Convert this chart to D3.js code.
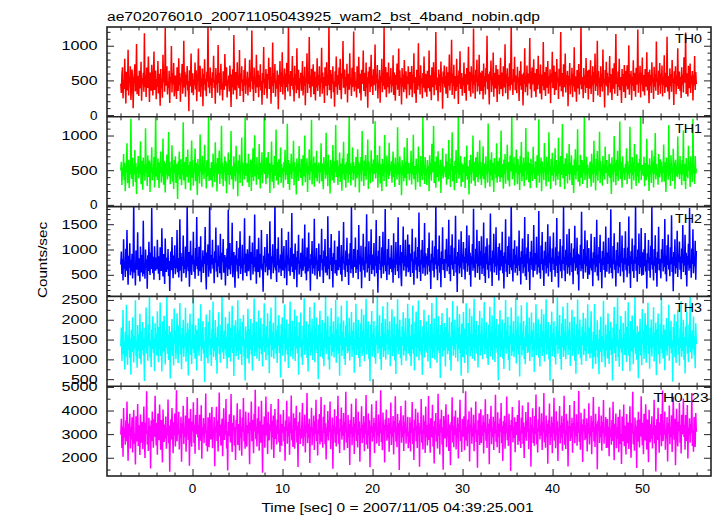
<!DOCTYPE html>
<html><head><meta charset="utf-8">
<script src="https://cdn.jsdelivr.net/npm/d3@7"></script>
<style>html,body{margin:0;padding:0;background:#fff;} svg{display:block;}</style>
</head><body>
<svg id="c" width="717" height="516"></svg>
<script>
const titleText = "ae702076010_20071105043925_wam2_bst_4band_nobin.qdp";
const xLabelText = "Time [sec] 0 = 2007/11/05 04:39:25.001";
const yLabelText = "Counts/sec";
const bandNames = ["TH0","TH1","TH2","TH3","TH0123"];
const bandColors = ["#ff0000","#00ff00","#0000ff","#00ffff","#ff00ff"];
const timeStart = -8, timeEnd = 56;
const xDomain = [-9.5, 57.6];
const xMajorTicks = [0,10,20,30,40,50];
const xMinorStep = 2;
const yDomains = [[-25,1270],[-25,1270],[73,1848],[323,2589],[1227,5030]];
const yMajorTicks = [[0,500,1000],[0,500,1000],[500,1000,1500],[500,1000,1500,2000,2500],[2000,3000,4000,5000]];
const yMinorStep = [100,100,100,250,500];

const th0 = [
452,318,587,690,241,505,378,812,430,166,623,497,355,941,284,540,463,702,219,388,655,512,97,476,588,731,342,459,1024,301,566,420,
274,638,491,383,769,208,533,447,608,335,1180,402,571,259,684,470,392,845,526,187,613,441,350,725,498,281,560,917,363,487,642,229,
519,406,778,312,595,451,136,663,387,528,250,870,474,612,338,1260,425,557,703,296,482,390,639,174,548,460,995,327,603,441,752,270,
384,571,460,233,689,512,347,820,429,604,192,538,476,735,309,451,1072,398,626,265,583,437,706,354,492,55,647,411,561,889,322,470,
603,285,514,432,758,369,646,201,497,584,961,338,455,712,263,530,409,671,128,592,443,803,356,518,270,624,481,1345,397,556,314,687,
428,533,246,619,472,856,391,508,165,678,437,579,322,1010,463,610,284,527,740,371,456,212,633,498,364,882,541,417,690,253,502,446,
571,340,715,459,118,586,403,660,297,1155,488,357,621,524,229,762,431,546,386,938,275,598,466,703,347,514,189,650,423,819,306,492,
455,626,281,538,401,797,334,612,487,1220,372,559,204,684,445,523,317,871,470,398,642,256,573,409,731,353,496,148,608,461,983,290,
517,384,663,447,240,591,512,828,375,470,689,162,552,421,1046,318,604,458,736,265,499,382,641,527,84,576,440,779,333,618,407,905,
298,546,472,670,221,597,403,753,486,339,1290,452,581,270,637,419,503,853,367,542,195,711,430,588,316,964,478,361,655,244,529,468,
610,351,491,778,283,564,425,697,143,535,462,892,320,603,448,1125,387,570,259,666,414,518,731,302,485,627,212,549,399,818,346,577,
432,703,265,528,466,970,309,612,385,550,173,689,421,498,760,281,574,436,1330,357,509,648,236,591,454,705,328,487,119,633,410,846,
503,292,575,438,684,361,812,457,227,602,529,1068,394,461,657,301,548,420,740,182,596,473,367,891,440,526,275,681,403,587,1205,339,
620,414,488,254,703,536,379,840,469,316,597,211,653,448,522,930,347,610,483,267,759,395,544,104,628,457,696,334,508,871,412,571,
289,662,431,539,1017,352,584,460,723,240,513,386,648,178,564,475,811,331,601,425,1280,368,540,693,258,486,617,402,759,313,552,444,
679,327,506,421,862,290,613,472,205,581,438,742,366,529,960,274,645,457,538,151,677,410,586,330,795,483,370,631,240,560,447,702,
534,287,619,442,371,706,258,581,463,890,312,547,409,176,652,488,365,1034,423,569,297,718,451,530,243,607,396,845,478,331,594,412,
266,640,503,389,932,341,575,447,214,688,520,402,761,285,613,436,1198,359,542,470,198,655,418,587,327,772,461,549,93,628,445,713,
398,562,306,695,481,248,617,424,873,356,531,463,1087,290,600,418,725,236,563,494,347,811,409,572,161,644,452,920,375,519,606,279,
541,428,757,318,590,466,206,679,437,515,984,351,623,400,265,704,489,561,312,1250,438,577,236,652,469,798,341,530,418,869,297,615,
462,349,638,517,228,742,405,563,296,680,481,1142,372,596,443,154,628,507,785,334,551,426,903,263,609,470,384,720,512,187,659,431,
578,302,490,826,377,615,451,271,703,529,398,1022,316,587,462,676,225,548,417,746,353,623,1305,439,512,290,665,476,839,358,571,452,
315,697,468,541,203,638,423,775,364,589,492,139,611,447,962,328,565,405,713,282,598,458,532,1110,374,629,251,687,441,518,806,343,
607,420,259,664,503,371,856,436,592,312,729,460,225,583,418,1052,357,621,479,274,694,531,395,778,307,560,443,660,172,601,470,914,
386,548,715,291,623,454,360,810,475,537,233,669,411,583,1198,342,606,468,265,731,494,402,889,327,575,446,637,128,568,423,750,301,
521,437,682,258,594,412,978,336,557,470,194,648,509,385,735,296,612,440,1340,371,547,489,243,677,432,575,318,824,463,392,640,225,
653,379,495,791,304,566,428,703,187,622,451,887,347,580,416,1073,283,634,472,538,262,705,413,596,339,947,460,521,108,651,437,768,
414,609,282,547,466,852,325,593,439,219,676,498,381,746,309,571,1168,448,532,275,628,405,812,358,549,480,174,663,424,593,333,721,
560,247,634,421,718,369,505,1005,292,588,457,638,213,552,419,791,346,609,483,263,682,437,540,1235,321,597,466,712,255,614,440,831,
342,576,490,284,663,517,408,904,355,621,449,171,655,423,579,318,760,472,537,231,697,410,588,352,1060,479,533,290,640,428,749,308,
596,453,716,268,545,430,862,319,610,474,402,1130,340,563,488,226,673,415,590,337,794,462,527,146,632,450,703,299,572,419,965,376,
489,627,351,551,248,688,439,583,327,835,468,512,1190,305,604,441,269,712,495,388,742,319,566,453,634,210,580,427,853,362,621,447];

const th1 = [
498,621,287,540,413,732,359,608,196,563,470,889,312,527,651,244,596,438,1240,375,512,684,265,579,447,790,330,602,158,541,468,705,
384,573,451,916,298,634,507,219,682,426,571,348,1103,463,590,272,717,401,548,639,186,603,472,829,355,519,436,694,249,585,1322,411,
529,360,667,482,245,610,455,771,322,548,410,956,289,634,503,178,598,442,727,367,561,1050,414,622,296,539,480,858,334,577,230,646,
458,701,315,593,487,84,624,432,768,371,536,658,283,505,443,1192,352,617,470,226,689,534,405,797,318,571,448,626,207,589,929,390,
642,277,533,461,812,341,606,490,142,662,419,573,309,1013,486,554,261,708,437,612,373,865,471,532,237,644,410,583,1290,344,527,462,
355,616,497,253,741,418,585,330,903,459,600,193,674,442,519,785,302,581,453,1140,378,611,268,552,476,697,345,628,166,590,433,754,
514,292,648,430,1064,367,557,484,224,701,412,596,339,853,474,550,126,638,451,723,316,579,489,972,271,611,447,568,365,1260,420,539,
601,323,470,738,257,585,466,653,201,627,398,818,340,529,1005,412,574,291,690,443,532,369,877,484,236,606,429,757,311,563,476,1345,
447,568,298,682,506,383,761,439,604,170,591,468,914,332,577,495,240,705,422,544,1087,351,618,460,289,659,517,402,827,314,590,453,
535,246,619,478,794,362,563,431,1170,301,646,507,213,598,440,736,374,583,486,923,282,617,459,551,148,670,412,588,343,849,476,523,
389,660,451,275,716,530,410,999,325,592,468,672,186,556,437,803,357,624,483,1228,294,571,445,698,263,604,511,390,781,339,567,474,
612,308,541,467,889,341,598,425,227,690,502,571,376,1041,430,613,269,724,458,539,164,651,426,580,352,862,491,317,632,470,1150,402,
477,642,286,563,412,754,330,597,488,205,672,441,910,363,586,509,248,617,455,739,321,574,1290,436,600,279,548,468,826,354,615,443,
560,256,689,471,383,803,429,618,177,589,455,691,339,1065,492,553,271,640,418,720,364,598,487,942,230,626,451,540,312,787,465,592,
332,655,447,529,1205,381,570,466,718,248,603,432,851,307,584,496,198,662,418,593,345,1008,473,539,262,711,445,580,374,896,420,567,
490,628,318,546,770,402,590,257,683,452,532,365,1118,437,611,288,701,468,551,138,645,425,579,341,832,499,387,620,275,964,451,508,
603,354,528,461,779,295,617,433,1012,370,559,491,218,668,445,582,326,843,472,539,261,704,416,611,358,1266,449,572,301,689,432,518,
287,645,480,556,196,716,439,604,348,881,467,530,1139,315,621,458,246,696,508,402,772,336,578,451,649,173,597,424,817,380,561,473,
541,403,738,292,625,459,368,934,421,587,258,673,496,1047,339,562,481,211,634,447,791,316,605,468,1298,377,548,431,706,263,612,484,
329,581,470,694,245,603,417,857,362,556,493,151,648,430,722,307,579,468,1001,348,621,455,273,687,512,401,764,326,590,443,930,372,
618,288,553,412,846,371,597,466,239,701,438,569,319,1174,480,535,262,653,424,758,357,608,492,187,676,449,541,386,890,318,627,459,
412,679,330,527,1071,394,588,470,231,655,446,733,304,582,511,866,352,616,437,264,713,482,556,1325,368,601,428,692,279,573,465,798,
553,296,661,438,576,213,702,463,905,341,594,417,683,270,612,488,1108,359,547,441,771,327,603,476,239,664,431,582,345,837,459,528,
374,630,495,248,717,421,569,1233,318,598,462,682,195,627,453,543,356,892,470,528,267,695,439,616,333,1046,487,552,229,663,426,751,
590,342,532,467,816,281,648,414,575,362,968,451,617,258,706,433,560,1167,384,593,472,226,671,505,417,744,310,584,446,878,355,609,
437,714,286,569,452,170,655,428,803,368,591,484,1092,335,574,449,269,723,510,396,645,302,616,463,1279,359,538,427,697,245,582,471,
529,377,623,498,262,738,441,584,320,925,467,546,209,661,423,775,349,598,486,1056,313,629,450,540,276,704,418,571,366,842,462,503,
646,303,557,420,734,391,596,472,158,687,436,562,327,993,478,608,283,652,419,781,343,575,496,1201,372,621,445,246,699,457,534,404,
361,591,470,815,297,633,441,548,375,1127,459,582,225,690,427,618,351,876,482,534,273,728,409,603,462,312,665,497,1290,354,577,436,
573,418,692,267,604,458,355,953,407,581,490,201,671,432,559,316,787,464,622,252,701,447,1036,369,589,425,540,289,732,476,394,658,
448,622,325,557,461,870,338,614,421,187,682,495,543,364,1150,426,596,274,716,459,532,343,808,478,611,230,651,418,570,399,984,441,
531,369,706,444,581,282,648,433,1074,346,593,472,228,677,413,560,381,851,490,618,257,699,427,585,331,1243,461,546,302,704,449,520];

const th2 = [
702,958,514,811,390,1204,623,748,455,1015,581,1387,689,302,874,640,1122,492,793,566,917,428,735,1960,548,671,287,982,760,603,1343,481,
826,634,368,1058,702,547,893,466,1570,519,716,423,1001,628,807,225,884,574,1152,661,497,940,615,1822,738,532,858,403,1066,694,579,842,
612,1193,744,519,868,395,1046,697,576,1418,783,468,913,651,318,1217,729,558,837,606,1010,476,771,182,696,962,588,1248,712,431,880,637,
1085,509,774,628,1384,549,833,447,702,1596,578,929,370,851,681,1277,529,768,614,1060,442,707,1873,805,571,951,266,728,1173,636,498,884,
705,1352,560,797,421,1028,676,1640,608,846,479,1053,717,571,1263,351,791,659,984,536,869,713,1447,578,210,940,687,1101,462,773,1922,634,
526,893,705,1191,618,829,334,966,741,1437,566,777,450,1085,666,872,529,1311,613,402,936,756,1208,543,702,891,291,845,651,1020,476,1788,
758,604,1127,512,803,688,1528,452,735,949,587,242,887,698,1167,564,811,429,1035,673,1362,517,746,630,1093,388,831,706,1619,541,922,652,
474,1003,728,569,858,1272,627,391,949,714,1140,505,796,648,1690,563,853,321,1003,685,556,1232,764,448,912,627,1385,590,720,167,874,732,
1047,552,798,660,1304,485,746,921,601,1560,707,411,864,731,1102,531,823,644,1985,592,710,358,1014,687,1243,548,801,627,903,477,1421,675,
586,817,1069,432,759,641,1187,294,888,703,1350,571,820,482,1033,662,1722,553,765,918,415,686,1118,598,847,254,968,720,1290,506,772,624,
934,458,703,1216,582,795,666,1494,526,853,390,1040,711,568,1338,640,807,186,911,694,1167,521,759,633,1608,486,846,704,1028,413,789,578,
1120,641,460,892,735,1410,592,812,337,978,669,1205,543,755,868,489,1655,618,771,412,1034,701,1306,574,851,247,932,710,1178,528,793,645,
480,1058,719,592,1372,650,824,505,1089,372,877,726,1545,601,742,458,981,683,1234,557,805,301,920,696,1126,532,1852,618,775,440,1012,706,
655,1236,534,791,617,994,412,1486,704,862,561,1073,236,839,687,1310,590,765,445,1054,722,1698,548,812,636,1161,379,896,701,1402,514,768,
903,602,1130,469,785,681,1581,532,864,146,977,717,1265,595,749,434,1046,663,1352,520,818,690,1799,571,733,395,1011,688,1206,503,842,617,
735,1084,553,811,342,1322,642,779,498,1146,703,917,571,1638,434,858,697,1087,512,276,950,727,1455,583,804,671,1192,466,875,645,1298,552,
612,1097,684,455,923,771,1412,538,806,302,958,703,1236,591,847,426,1050,668,1731,557,790,377,994,702,1189,523,860,644,1523,480,925,716,
864,505,1031,678,1338,561,794,221,917,735,1178,582,843,449,1065,703,1892,612,768,394,1003,677,1276,540,831,256,962,716,1441,593,812,661,
437,998,726,1214,570,839,659,1587,515,887,373,1079,696,1303,604,776,478,1035,712,1665,548,861,160,949,684,1196,526,808,640,1362,458,901,
742,1149,603,858,407,1024,731,1476,559,819,687,1283,498,934,263,867,705,1107,582,1806,640,794,446,1016,717,1392,535,849,672,1168,401,972,
685,1263,514,805,630,1535,476,927,338,1058,709,1224,601,756,432,1092,689,1710,566,838,279,981,722,1311,548,877,663,1439,496,812,689,1047,
388,1125,752,584,983,668,1350,529,869,231,946,718,1597,560,801,459,1071,694,1255,517,855,646,1926,591,778,367,1014,705,1183,542,894,633,
1062,488,821,692,1373,575,845,307,965,713,1219,532,789,648,1644,470,906,398,1037,723,1304,561,829,199,955,698,1171,602,838,453,1486,681,
579,930,704,1250,508,866,652,1760,543,796,420,1081,716,1346,592,810,281,976,688,1152,527,883,637,1501,469,921,730,1264,560,843,358,1018,
720,1336,596,817,461,1043,681,1622,534,873,251,960,702,1207,568,786,433,1076,715,1852,586,849,371,993,690,1299,520,807,649,1410,487,935,
691,1123,556,840,315,1020,727,1468,579,858,642,1233,505,917,188,891,698,1094,571,1747,618,802,423,1008,710,1377,544,864,677,1182,416,958,
1025,503,774,635,1313,587,829,275,944,706,1248,549,812,662,1589,481,897,387,1049,731,1289,556,824,232,970,695,1160,594,851,445,1453,679,
560,942,713,1230,519,873,640,1795,536,801,428,1068,708,1321,598,783,267,990,683,1141,530,876,653,1545,473,913,735,1275,565,834,349,1030,
706,1360,589,827,452,1037,677,1652,528,866,240,967,711,1218,572,790,438,1083,718,1903,582,853,364,999,688,1316,515,811,646,1425,483,944,
833,498,1005,671,1327,566,791,229,925,730,1190,578,848,444,1072,697,1847,607,773,390,1011,673,1283,537,836,262,955,713,1450,588,818,658,
430,1004,729,1207,566,844,656,1603,510,882,369,1086,694,1295,607,781,474,1042,709,1678,553,858,173,952,680,1203,521,813,637,1368,455,908,
748,1156,600,862,410,1019,728,1484,556,822,684,1290,495,938,270,870,702,1114,579,1818,635,799,441,1021,714,1400,532,846,668,1175,404,969];

const th3 = [
1328,1802,960,1541,2243,1127,1460,745,1688,1072,2378,1304,865,1610,1243,1975,1036,1512,614,1739,1188,2065,1394,921,1583,1270,2492,1085,1450,790,1867,1219,
1630,1015,2154,1377,876,1704,1232,1940,1107,1525,455,1798,1284,2310,1146,1592,968,1882,1331,2570,1050,1474,803,1761,1260,2085,1169,1528,700,1913,1298,1642,
1101,2211,1405,930,1817,1252,2433,1083,1555,692,1960,1347,1201,2102,1474,872,1737,1296,2594,1142,1618,986,1840,1324,517,1697,1214,2016,1090,1535,843,2286,
1383,1720,1005,1572,2165,1244,909,1857,1356,2420,1126,1609,754,1789,1279,1998,1068,1501,1321,2302,938,1669,1193,1924,591,1754,1350,2151,1115,1482,882,1880,
1269,2553,1157,1613,1013,1869,1402,718,1743,1225,2037,1092,1540,1336,2388,960,1707,1267,1965,1150,1466,428,1812,1309,2133,1044,1585,901,1946,1364,2246,1119,
1526,834,1779,1288,2458,1061,1650,1203,1994,981,1555,637,1825,1340,2190,1135,1481,918,1871,1296,2581,1173,1624,1009,1720,1252,2072,1107,1573,768,1906,1382,
1045,2206,1419,948,1796,1284,2352,1160,1530,579,1853,1327,1987,1079,1637,1198,2490,993,1726,1233,2031,1137,1589,856,1941,1346,2127,1066,1510,469,1834,1291,
1711,1023,2280,1387,897,1762,1245,2016,1124,1599,710,1915,1359,2537,1082,1658,1197,1949,1017,1495,1305,2231,958,1807,1261,2044,1130,1569,823,1891,1336,2419,
1178,1642,976,1838,1315,2165,1102,1541,652,1977,1369,2306,1057,1692,1234,1923,1018,1515,1290,2598,1140,1748,907,1862,1342,2111,1161,1603,541,1887,1274,2063,
1090,1612,1396,2385,943,1776,1243,2006,1123,1536,781,1898,1322,2462,1071,1667,1209,1975,1001,1519,1350,2257,960,1817,1276,2098,1152,1585,612,1935,1301,1724,
2179,1048,1490,858,1849,1353,2544,1114,1628,1224,1962,1037,1548,691,1885,1318,2320,1096,1705,1180,2024,985,1573,1391,2437,926,1791,1257,2059,1163,1605,497,
1876,1337,2224,1069,1663,1216,1991,1025,1504,827,1922,1303,2575,1130,1734,1251,2091,991,1567,746,1851,1366,2298,1078,1640,1192,1959,1049,1527,1316,2502,912,
1767,1240,2077,1141,1598,587,1911,1361,2357,1088,1681,1227,1983,1012,1547,861,1868,1325,2480,1155,1623,1203,2050,970,1582,1374,2196,1059,1713,1236,1938,664,
1498,1349,2404,1110,1659,1263,2002,1034,1561,805,1903,1310,2273,1093,1715,1185,2125,955,1594,1399,2528,1126,1775,1249,1955,1003,1538,446,1880,1333,2218,1074,
1644,1212,1971,1041,1520,887,1845,1370,2589,1148,1699,1268,2110,1005,1577,732,1928,1299,2342,1062,1671,1220,2019,997,1552,1380,2447,1117,1742,1256,1960,825,
1506,1344,2262,1087,1636,1196,2081,973,1591,628,1894,1313,2520,1131,1757,1240,1997,1026,1563,853,1829,1357,2190,1101,1684,1218,2046,964,1548,1326,2401,1150,
1412,2031,1088,1596,835,1884,1257,2362,1139,1634,722,1950,1318,2205,1066,1571,1290,2487,975,1728,1206,1991,1120,1552,604,1835,1379,2254,1047,1660,1238,1957,
1175,1703,946,2118,1344,1583,778,1890,1271,2425,1034,1629,1186,2040,999,1513,1362,2566,914,1781,1229,2087,1155,1614,533,1869,1306,2169,1075,1696,1223,1920,
1532,819,1826,1293,2296,1127,1680,1212,2064,984,1558,713,1945,1352,2471,1093,1719,1248,2008,1040,1519,1389,2355,947,1803,1269,2142,1160,1621,586,1902,1327,
1057,2193,1400,908,1773,1260,2414,1118,1587,655,1916,1337,2283,1082,1654,1207,2099,1013,1544,1312,2529,968,1760,1281,1971,1149,1609,794,1866,1348,2226,1096,
1640,1198,2052,1004,1566,1369,2450,1132,1712,1254,1938,1027,1527,856,1874,1339,2330,1070,1683,1215,2110,990,1561,1395,2584,933,1796,1276,2016,1166,1597,472,
1889,1321,2237,1060,1669,1231,2003,1019,1511,760,1925,1298,2496,1141,1737,1262,2074,983,1575,711,1858,1373,2311,1087,1648,1201,1966,1054,1536,1330,2551,898,
1754,1252,2090,1129,1606,569,1907,1355,2368,1097,1690,1236,1970,1007,1554,877,1861,1317,2443,1163,1631,1193,2058,962,1590,1387,2181,1051,1721,1244,1929,681,
1488,1341,2391,1106,1663,1270,2014,1040,1569,818,1895,1302,2262,1085,1708,1178,2137,949,1602,1404,2515,1121,1768,1256,1943,995,1546,463,1871,1326,2207,1081,
1657,1220,1960,1048,1529,874,1838,1363,2560,1140,1706,1263,2119,1011,1584,741,1916,1306,2333,1058,1677,1227,2025,1002,1559,1371,2430,1110,1749,1250,1948,836,
1513,1351,2250,1093,1645,1205,2070,967,1598,640,1883,1319,2508,1125,1765,1233,2005,1031,1571,866,1822,1364,2178,1108,1692,1211,2039,958,1556,1333,2388,1142,
1329,1795,1026,1611,2213,1153,1477,762,1694,1064,2396,1311,881,1619,1236,1989,1043,1521,626,1746,1195,2076,1401,929,1590,1277,2478,1078,1457,801,1877,1226,
1622,1020,2163,1384,883,1711,1239,1952,1114,1532,468,1806,1291,2322,1153,1600,961,1890,1338,2556,1057,1480,812,1768,1267,2094,1176,1535,707,1921,1305,1649,
1108,2219,1412,937,1824,1259,2441,1090,1562,699,1967,1354,1208,2109,1481,879,1744,1303,2577,1149,1625,993,1847,1331,524,1704,1221,2023,1097,1542,850,2273,
1390,1727,1012,1579,2172,1251,916,1864,1363,2431,1133,1616,761,1796,1286,2005,1075,1508,1328,2314,945,1676,1200,1931,598,1761,1357,2158,1122,1489,889,1887,
1276,2545,1164,1620,1020,1876,1409,725,1750,1232,2044,1099,1547,1343,2375,967,1714,1274,1972,1157,1473,435,1819,1316,2140,1051,1592,908,1953,1371,2253,1126,
1533,841,1786,1295,2465,1068,1657,1210,2001,988,1562,644,1832,1347,2197,1142,1488,925,1878,1303,2573,1180,1631,1016,1727,1259,2079,1114,1580,775,1913,1389];

const th0123 = [
2984,3651,2417,3322,2043,4108,2870,3245,2556,3590,2702,4386,3061,1874,3448,2919,3862,2395,3301,2788,3710,2221,3157,4025,2593,3029,1716,3755,3186,2690,4274,2498,
3375,2861,2120,3833,3042,2634,3508,2359,3226,4166,2807,1985,3480,3005,4812,2561,3119,2283,3690,2918,3341,1541,3577,2706,3960,3063,2421,3633,2891,4622,3172,2519,
3466,2132,3873,3084,2744,4253,3287,2340,3602,2969,1797,4040,3143,2672,3410,2821,3748,2378,3254,2950,4471,2611,3365,1408,3051,3627,2769,4101,3131,2195,3504,2940,
3869,2477,3263,4862,2696,3427,2985,3948,2355,3199,2834,3736,1829,3461,3026,4198,2584,3278,2893,3792,2259,3101,4571,3346,2748,3659,1665,3142,4063,2902,2463,3532,
3114,4345,2626,3393,2168,3810,2998,3239,4526,2862,3402,2327,3823,3082,2719,4220,1953,3296,2966,3684,2619,3440,3038,4724,2507,3148,2270,3712,3006,2447,3903,3092,
2775,3444,4151,2405,3218,2941,3726,1640,3327,3080,4155,2712,3566,2262,3285,4759,2907,3396,2515,3169,3657,2068,3032,4092,2751,3369,2979,4486,2395,3133,1458,3515,
2913,3841,3202,2648,4697,3047,2242,3475,3161,3797,2515,3306,1904,3593,3240,4305,2543,3076,3432,2303,4052,2847,3316,2080,3703,3098,4532,2694,3024,2386,3954,3200,
2472,3375,3045,3918,2889,1729,3505,3171,4386,2698,3613,2994,2196,3861,3108,4882,2782,3322,2476,3675,3027,4170,2298,3270,3548,2635,4416,3090,1368,3392,2945,3746,
2428,3286,4598,2941,3494,2163,3952,3049,2737,3418,3121,4276,2347,3567,2859,3793,1992,3250,4063,2800,3368,2562,3624,3009,4489,2654,3197,2240,3836,3072,2513,3431,
3059,4020,2689,3308,1872,3582,3136,4410,2593,3265,2923,3742,2126,3489,3034,4637,2743,3209,2458,3885,3011,2380,3679,3154,4203,2651,3346,1611,3519,2957,3928,2582,
3234,2814,3597,4313,2486,3159,2908,3816,2219,3378,3066,4740,2622,3428,2843,3651,1773,3309,3099,4118,2535,3255,2936,3787,2331,3541,3018,4451,2709,3183,2094,3622,
2994,3854,2567,3337,4567,2678,3122,2420,3731,3047,4239,2585,3460,1923,3276,2898,3982,2733,3574,3087,4377,2366,3191,2865,3705,1535,3384,3052,4055,2639,3292,2477,
3771,2998,4630,2592,3236,2204,3640,3116,4123,2761,3355,2931,3898,2314,3510,3073,4799,2646,3167,2409,3806,2883,3432,1688,3603,3002,4287,2528,3307,2890,3727,2156,
3448,3057,4508,2714,3212,2432,3944,2962,3532,1831,3262,3131,4182,2615,3398,2853,3764,2274,3486,3020,4652,2560,3150,2381,3869,2943,3589,1598,3356,3063,4262,2692,
3322,2874,3691,2190,3473,3109,4412,2606,3227,2946,3832,2493,3526,3044,4855,2667,3175,2321,3915,2984,3401,1799,3617,3123,4047,2724,3392,2829,3679,2253,3461,3015,
4339,2545,3244,2906,3769,2133,3555,3080,4601,2684,3290,2441,3850,2978,3463,1481,3588,3127,4187,2637,3319,2867,3803,2285,3497,3036,4420,2599,3206,2918,3737,2402,
3097,2651,3718,2266,3489,3052,4356,2582,3261,1902,3604,3119,4077,2700,3354,2416,3921,2962,3475,1617,3291,3035,4492,2636,3182,2345,3797,3008,3540,2198,4168,2857,
3381,2520,3142,4619,2751,3437,2209,3676,3060,2871,4244,2473,3321,1754,3558,3021,3893,2688,3200,2391,4705,2923,3406,2134,3625,3073,4030,2565,3288,1497,3772,2981,
2817,3565,4268,2448,3215,2928,3830,2285,3409,3048,1681,3509,3166,4563,2642,3348,2450,3747,2969,4001,2355,3258,2842,3706,1972,3436,3092,4456,2710,3176,2240,3645,
3210,2887,3754,2318,3522,4819,2735,3303,2487,3614,3029,3967,1840,3398,3114,4124,2598,3250,2905,3818,2274,3452,3037,4383,2669,3163,1575,3584,2958,3879,2536,3311,
4057,2626,3368,2941,3795,2181,3501,3069,4478,2722,3233,2415,3853,2999,3444,1721,3641,3105,4206,2571,3273,2882,3737,2328,3532,3016,4665,2681,3195,2449,3924,2893,
3427,2203,3664,3081,4316,2613,3339,1868,3548,2994,3776,2379,3470,3040,4590,2745,3222,2498,3863,2917,3386,1436,3596,3128,4149,2652,3301,2833,3714,2231,3515,3053,
2970,3805,2546,3269,4434,2694,3152,2417,3689,3025,4212,2581,3490,1986,3312,2879,3935,2716,3559,3093,4347,2358,3206,2850,3723,1624,3398,3064,4094,2624,3281,2508,
3763,2993,4680,2575,3247,2226,3618,3111,4154,2776,3364,2937,3881,2325,3499,3067,4741,2654,3173,2424,3786,2899,3441,1745,3587,3013,4300,2537,3318,2881,3746,2190,
3492,3044,4539,2726,3225,2406,3972,2951,3545,1859,3251,3124,4196,2603,3385,2866,3777,2293,3471,3030,4624,2553,3161,2370,3855,2957,3578,1629,3343,3079,4235,2706,
3330,2862,3698,2211,3461,3121,4398,2615,3239,2932,3845,2504,3513,3058,4827,2677,3188,2336,3906,2998,3415,1820,3632,3110,4072,2737,3379,2818,3671,2264,3476,3022,
4311,2558,3233,2913,3781,2146,3541,3089,4574,2693,3305,2455,3864,2985,3452,1513,3571,3134,4164,2627,3332,2875,3790,2298,3508,3041,4445,2589,3219,2926,3725,2413,
2991,3643,2428,3316,2060,4129,2883,3230,2549,3602,2714,4368,3073,1892,3435,2908,3875,2404,3289,2799,3721,2234,3170,4046,2580,3016,1738,3742,3174,2701,4251,2487,
3364,2849,2137,3848,3055,2621,3497,2371,3239,4180,2794,1997,3468,3018,4790,2574,3107,2296,3702,2930,3329,1563,3589,2693,3949,3076,2434,3621,2904,4604,3185,2531,
3479,2144,3861,3096,2731,4266,3275,2351,3614,2957,1812,4028,3155,2660,3422,2808,3761,2390,3242,2963,4459,2599,3377,1421,3039,3639,2757,4113,3119,2208,3491,2952,
3856,2489,3275,4843,2708,3414,2973,3960,2343,3211,2822,3723,1846,3473,3014,4210,2571,3290,2880,3804,2246,3114,4583,3334,2760,3647,1679,3130,4075,2890,2475,3519,
3127,4332,2638,3380,2181,3823,2986,3252,4513,2875,3389,2340,3810,3095,2706,4233,1966,3284,2979,3671,2632,3427,3051,4737,2494,3161,2257,3725,2993,2460,3890,3105];

const series = [th0, th1, th2, th3, th0123];

// ---------- layout ----------
const W = 717, H = 516;
const left = 107, right = 711, plotTop = 27, plotBottom = 476;
const panelH = (plotBottom - plotTop) / series.length;
const FONT = "'Liberation Sans', Arial, Helvetica, sans-serif";
const FS = 12.5;
const INK = "#222";

const svg = d3.select("#c");
svg.append("rect").attr("width", W).attr("height", H).attr("fill", "#fff");
const x = d3.scaleLinear().domain(xDomain).range([left, right]);

function ticksBetween(d0, d1, step) {
  const out = [];
  for (let v = Math.ceil(d0 / step) * step; v <= d1 + 1e-9; v += step) out.push(+v.toFixed(6));
  return out;
}
function label(txt, x0, y0, len, extra) {
  const t = svg.append("text").attr("x", x0).attr("y", y0)
    .attr("font-family", FONT).attr("font-size", FS).attr("fill", "#000")
    .attr("textLength", len).attr("lengthAdjust", "spacingAndGlyphs").text(txt);
  if (extra) extra(t);
  return t;
}

const xMinor = ticksBetween(xDomain[0], xDomain[1], xMinorStep).filter(v => !xMajorTicks.includes(v));

series.forEach((vals, k) => {
  const pt = plotTop + k * panelH, pb = pt + panelH;
  const y = d3.scaleLinear().domain(yDomains[k]).range([pb, pt]);
  const bw = (timeEnd - timeStart) / vals.length;
  const pts = vals.map((v, i) => [timeStart + (i + 0.5) * bw, v]);

  const clipId = "clip" + k;
  svg.append("clipPath").attr("id", clipId).append("rect")
    .attr("x", left).attr("y", pt).attr("width", right - left).attr("height", panelH);

  svg.append("path").datum(pts)
    .attr("clip-path", `url(#${clipId})`)
    .attr("fill", "none").attr("stroke", bandColors[k]).attr("stroke-width", 1.5)
    .attr("stroke-linejoin", "bevel")
    .attr("d", d3.line().x(d => x(d[0])).y(d => y(d[1])).curve(d3.curveLinear));

  const yMinor = ticksBetween(yDomains[k][0], yDomains[k][1], yMinorStep[k]).filter(v => !yMajorTicks[k].includes(v));
  const strip = g => { g.select(".domain").remove(); g.selectAll("line").attr("stroke", INK).attr("stroke-width", 1); g.selectAll("text").remove(); };

  [[xMinor, 3.5], [xMajorTicks, 7]].forEach(([tv, sz]) => {
    svg.append("g").attr("transform", `translate(0,${pb})`)
      .call(d3.axisBottom(x).tickValues(tv).tickSize(-sz).tickFormat("")).call(strip);
    svg.append("g").attr("transform", `translate(0,${pt})`)
      .call(d3.axisTop(x).tickValues(tv).tickSize(-sz).tickFormat("")).call(strip);
  });
  [[yMinor, 3.5], [yMajorTicks[k], 7]].forEach(([tv, sz]) => {
    svg.append("g").attr("transform", `translate(${left},0)`)
      .call(d3.axisLeft(y).tickValues(tv).tickSize(-sz).tickFormat("")).call(strip);
    svg.append("g").attr("transform", `translate(${right},0)`)
      .call(d3.axisRight(y).tickValues(tv).tickSize(-sz).tickFormat("")).call(strip);
  });

  // y tick labels
  yMajorTicks[k].forEach(v => {
    const s = String(v);
    const len = s.length === 1 ? 7.5 : s.length === 3 ? 26.5 : 36;
    label(s, 97.5 - len, y(v) + 4.5, len);
  });

  // band name
  const nm = bandNames[k];
  const nlen = nm.length > 3 ? 55 : 27;
  const nx = nm.length > 3 ? 653.5 : 675;
  label(nm, nx, pt + 16, nlen);
});

// frame
svg.append("rect").attr("x", left).attr("y", plotTop).attr("width", right - left).attr("height", plotBottom - plotTop)
  .attr("fill", "none").attr("stroke", INK).attr("stroke-width", 1.6);
for (let k = 1; k < series.length; k++) {
  const yy = plotTop + k * panelH;
  svg.append("line").attr("x1", left).attr("x2", right).attr("y1", yy).attr("y2", yy)
    .attr("stroke", INK).attr("stroke-width", 1.6);
}

// x tick labels
xMajorTicks.forEach(v => {
  const s = String(v);
  const len = s.length === 1 ? 7.5 : 15;
  label(s, x(v) - len / 2, 493, len);
});

// title and axis titles
label(titleText, 107, 20.5, 433);
label(xLabelText, 261.5, 512, 272);
label(yLabelText, 0, 0, 76, t => t.attr("transform", "translate(46.5,298) rotate(-90)"));
</script>
</body></html>
